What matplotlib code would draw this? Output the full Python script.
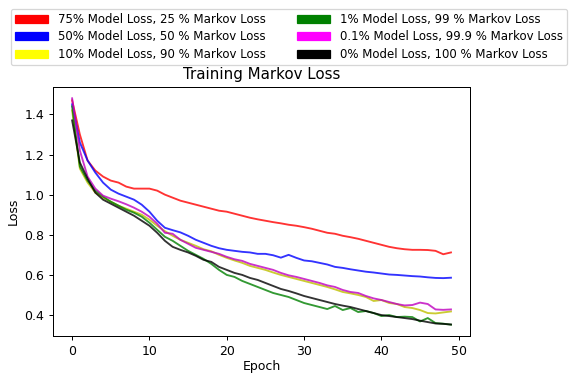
import matplotlib
matplotlib.use("Agg")
import matplotlib.pyplot as plt
import matplotlib.patches as mpatches
import numpy as np

# Loss per epoch for each model/markov weighting
epochs = np.arange(50)

loss_75 = [1.47, 1.30, 1.17, 1.12, 1.09, 1.07, 1.06, 1.04, 1.03, 1.03,
           1.03, 1.02, 1.00, 0.985, 0.97, 0.96, 0.95, 0.94, 0.93, 0.92,
           0.915, 0.905, 0.895, 0.885, 0.877, 0.87, 0.863, 0.857, 0.85, 0.845,
           0.838, 0.83, 0.82, 0.81, 0.805, 0.795, 0.788, 0.78, 0.77, 0.76,
           0.75, 0.74, 0.733, 0.728, 0.725, 0.725, 0.724, 0.72, 0.703, 0.712]
loss_50 = [1.45, 1.26, 1.17, 1.11, 1.06, 1.025, 1.005, 0.99, 0.975, 0.95,
           0.915, 0.87, 0.835, 0.823, 0.812, 0.795, 0.775, 0.76, 0.745, 0.733,
           0.725, 0.72, 0.715, 0.712, 0.705, 0.705, 0.698, 0.686, 0.70, 0.685,
           0.672, 0.668, 0.66, 0.652, 0.64, 0.635, 0.628, 0.622, 0.616, 0.612,
           0.607, 0.602, 0.60, 0.597, 0.594, 0.592, 0.588, 0.585, 0.584, 0.586]
loss_10 = [1.42, 1.13, 1.06, 1.01, 0.985, 0.965, 0.945, 0.93, 0.915, 0.90,
           0.875, 0.845, 0.818, 0.795, 0.775, 0.76, 0.745, 0.728, 0.718, 0.70,
           0.685, 0.672, 0.66, 0.645, 0.635, 0.625, 0.612, 0.60, 0.59, 0.58,
           0.57, 0.56, 0.55, 0.54, 0.528, 0.515, 0.508, 0.50, 0.49, 0.47,
           0.475, 0.46, 0.455, 0.44, 0.435, 0.425, 0.41, 0.408, 0.413, 0.418]
loss_1 = [1.44, 1.14, 1.07, 1.02, 0.99, 0.965, 0.945, 0.925, 0.91, 0.89,
          0.86, 0.825, 0.79, 0.77, 0.745, 0.72, 0.70, 0.68, 0.655, 0.625,
          0.60, 0.59, 0.57, 0.555, 0.54, 0.525, 0.51, 0.50, 0.49, 0.475,
          0.46, 0.45, 0.44, 0.43, 0.445, 0.425, 0.435, 0.415, 0.42, 0.41,
          0.395, 0.40, 0.39, 0.392, 0.39, 0.368, 0.385, 0.36, 0.357, 0.352]
loss_01 = [1.48, 1.22, 1.09, 1.03, 0.995, 0.98, 0.967, 0.952, 0.935, 0.915,
           0.89, 0.855, 0.81, 0.805, 0.775, 0.755, 0.735, 0.725, 0.715, 0.705,
           0.69, 0.678, 0.67, 0.655, 0.645, 0.635, 0.625, 0.61, 0.598, 0.59,
           0.58, 0.57, 0.56, 0.548, 0.54, 0.525, 0.515, 0.51, 0.495, 0.483,
           0.475, 0.465, 0.455, 0.448, 0.45, 0.462, 0.455, 0.428, 0.426, 0.428]
loss_0 = [1.37, 1.16, 1.08, 1.01, 0.975, 0.955, 0.935, 0.915, 0.895, 0.87,
          0.845, 0.81, 0.77, 0.74, 0.725, 0.712, 0.695, 0.675, 0.665, 0.64,
          0.625, 0.61, 0.60, 0.585, 0.575, 0.56, 0.545, 0.53, 0.52, 0.508,
          0.495, 0.485, 0.475, 0.465, 0.455, 0.447, 0.44, 0.43, 0.42, 0.41,
          0.40, 0.395, 0.39, 0.385, 0.38, 0.372, 0.365, 0.358, 0.356, 0.353]

series = [loss_75, loss_50, loss_10, loss_1, loss_01, loss_0]
line_colors = ['r', 'b', 'y', 'g', 'm', 'k']
patch_colors = ['red', 'blue', 'yellow', 'green', 'magenta', 'black']
labels = ['75% Model Loss, 25 % Markov Loss',
          '50% Model Loss, 50 % Markov Loss',
          '10% Model Loss, 90 % Markov Loss',
          '1% Model Loss, 99 % Markov Loss',
          '0.1% Model Loss, 99.9 % Markov Loss',
          '0% Model Loss, 100 % Markov Loss']

fig = plt.figure(figsize=(578 / 90, 375 / 90), dpi=90)
ax = fig.add_axes([0.092, 0.104, 0.721, 0.664])

for vals, c in zip(series, line_colors):
    ax.plot(epochs, vals, color=c, alpha=0.8, linewidth=1.5)

ax.set_title('Training Markov Loss')
ax.set_xlabel('Epoch', labelpad=2)
ax.set_ylabel('Loss')

handles = [mpatches.Patch(color=c, label=l) for c, l in zip(patch_colors, labels)]
fig.legend(handles=handles, ncol=2, loc='upper center', bbox_to_anchor=(0.5, 0.992),
           fontsize=9.4, handlelength=2.8, labelspacing=0.38, borderpad=0.35,
           columnspacing=2.6, handletextpad=0.9)

fig.savefig('out.png', dpi=90)
